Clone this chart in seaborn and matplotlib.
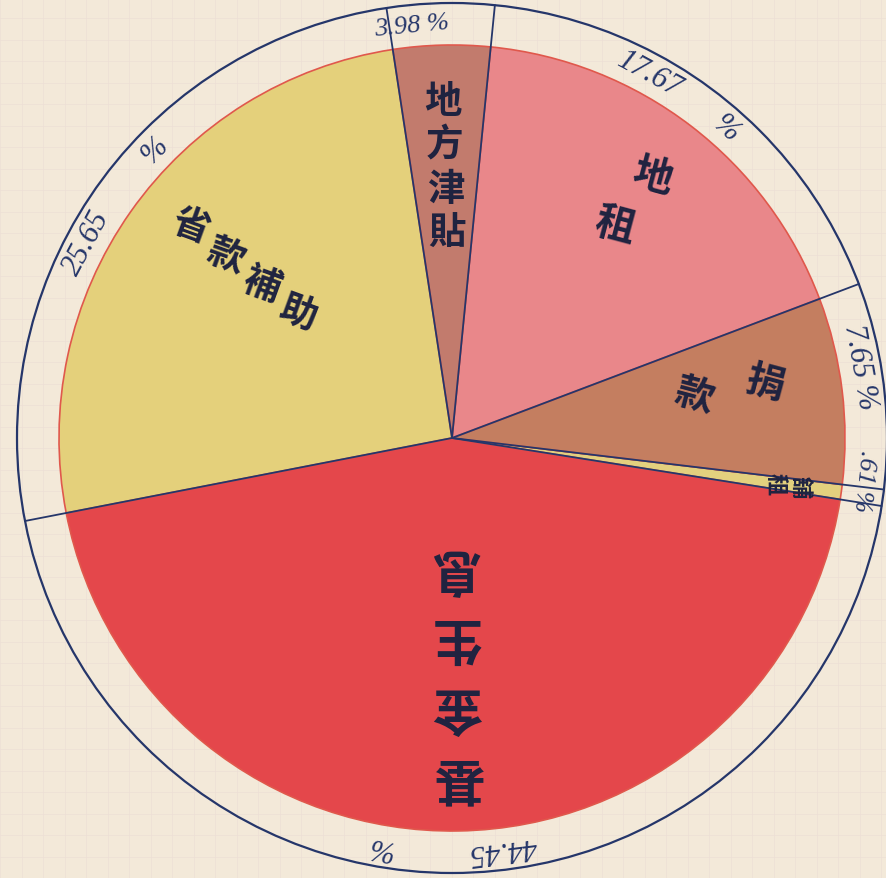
import numpy as np
import matplotlib
matplotlib.use("Agg")
import matplotlib.pyplot as plt
from matplotlib.patches import Circle
import seaborn as sns

# slices, counter-clockwise starting from the left edge of the circle
labels = ["基金生息", "舖租", "捐款", "地租", "地方津貼", "省款補助"]
values = [44.45, 0.61, 7.65, 17.67, 3.98, 25.65]
pct_labels = ["44.45", ".61", "7.65", "17.67", "3.98", "25.65"]
colors = ["#e4474b", "#e3d07e", "#c47e60", "#e9878a", "#c27b6d", "#e4d07b"]

paper = "#f3e9d9"
navy = "#25366a"
ink = "#1f2340"

sns.set_theme(style="white", rc={"axes.facecolor": paper, "figure.facecolor": paper})
plt.rcParams["font.family"] = ["Noto Sans CJK TC", "DejaVu Sans"]

fig = plt.figure(figsize=(8.86, 8.79), dpi=100)
ax = fig.add_axes([0, 0, 1, 1])

cx, cy = 452, 440      # centre (pixels, y up)
R, RING = 393, 435     # pie radius, outer ring radius
start = 191

wedges, _ = ax.pie(values, colors=colors, startangle=start, counterclock=True,
                   center=(cx, cy), radius=R, frame=True,
                   wedgeprops=dict(edgecolor="#e0584c", linewidth=1.2))

# graph paper background
ax.set_xlim(0, 886)
ax.set_ylim(0, 879)
ax.set_aspect("equal")
ax.set_xticks(np.arange(0, 886, 21.5))
ax.set_yticks(np.arange(0, 879, 21.5))
ax.grid(True, color="#eddfd5", lw=0.5)
ax.set_axisbelow(True)
ax.tick_params(length=0, labelbottom=False, labelleft=False)
for s in ax.spines.values():
    s.set_visible(False)

# outer ring and radial lines
ax.add_patch(Circle((cx, cy), RING, fill=False, ec=navy, lw=1.6, zorder=5))
fr = np.array(values) / sum(values)
bounds = start + 360 * np.concatenate([[0], np.cumsum(fr)])
for b in bounds[:-1]:
    t = np.deg2rad(b)
    ax.plot([cx, cx + RING * np.cos(t)], [cy, cy + RING * np.sin(t)],
            color=navy, lw=1.3, zorder=6)
mids = (bounds[:-1] + bounds[1:]) / 2

# slice names, one character at a time, outside -> centre
name_off = [0, 0, 3, 0, 0, -4]
name_r0 = [338, 352, 318, 330, 338, 337]
name_step = [70, 26, 72, 62, 44, 46]
name_rot = [180, -90, -15, -15, 0, -20]
name_size = [36, 16, 28, 29, 27, 27]
for i, lab in enumerate(labels):
    t = np.deg2rad(mids[i] + name_off[i])
    for j, ch in enumerate(lab):
        r = name_r0[i] - j * name_step[i]
        ax.text(cx + r * np.cos(t), cy + r * np.sin(t), ch, fontsize=name_size[i],
                rotation=name_rot[i], ha="center", va="center", color=ink,
                fontweight="bold", zorder=7)

# percentages written around the ring
num_off = [6, 2, 3, 9, 4, 7]
sign_off = [-11, None, None, -4, None, -9]
rp = 414


def ring_text(s, ang, size=22):
    t = np.deg2rad(ang)
    ax.text(cx + rp * np.cos(t), cy + rp * np.sin(t), s, rotation=ang - 90,
            rotation_mode="anchor", ha="center", va="center", color=navy,
            fontsize=size, family="Liberation Serif", style="italic", zorder=7)


for i, p in enumerate(pct_labels):
    if sign_off[i] is None:
        ring_text(p + " %", mids[i] + num_off[i], 19 if i in (1, 4) else 22)
    else:
        ring_text(p, mids[i] + num_off[i])
        ring_text("%", mids[i] + sign_off[i])

fig.savefig("out.png", dpi=100, facecolor=paper)
